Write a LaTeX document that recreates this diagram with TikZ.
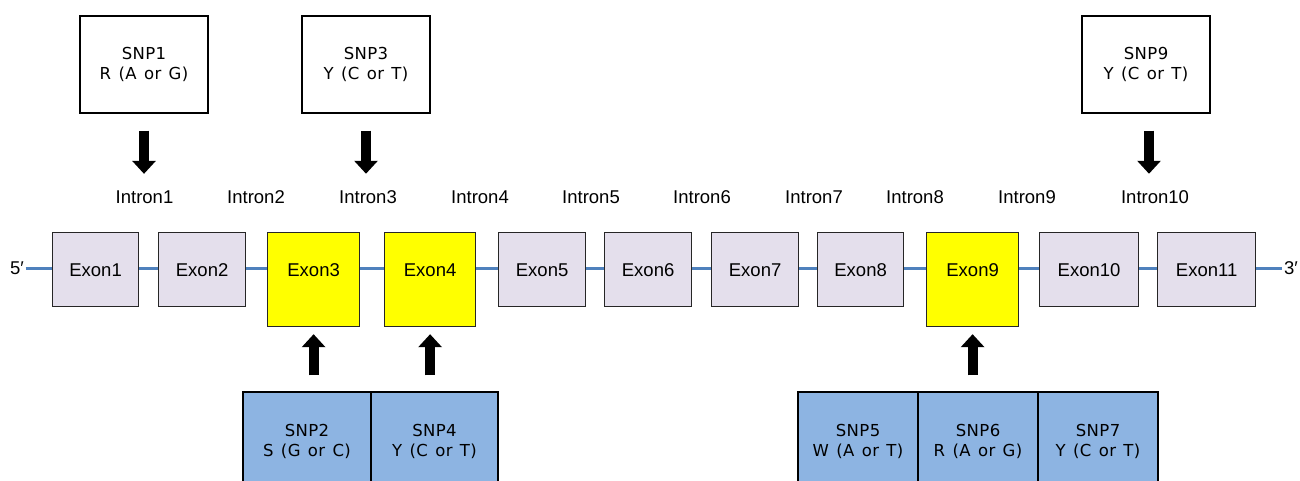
\documentclass[tikz,border=0pt]{standalone}
\usepackage{fontspec}
\setmainfont{Liberation Sans}
\newfontfamily\snpfont[LetterSpace=2.5,WordSpace=1.3]{DejaVu Sans}
\usetikzlibrary{arrows.meta}
\definecolor{exongrey}{HTML}{E4DFEC}
\definecolor{snpblue}{HTML}{8DB4E2}
\definecolor{strandblue}{HTML}{4F81BD}
\definecolor{exonyellow}{HTML}{FFFF00}
\tikzset{
  exon/.style={draw=black!85, line width=1.2pt, fill=exongrey, anchor=north west,
    inner xsep=0pt, inner ysep=0pt, text height=44pt, text depth=30pt,
    font=\fontsize{18.5}{20}\selectfont},
  hot/.style={fill=exonyellow, text depth=50pt},
  intron/.style={inner sep=0pt, font=\fontsize{18.5}{20}\selectfont},
  endlabel/.style={inner sep=1.5pt, font=\fontsize{18.5}{20}\selectfont},
  snpbox/.style={draw=black, line width=1.3pt, minimum height=97pt, align=center,
    inner sep=0pt, font=\snpfont\fontsize{16.5}{20}\selectfont},
  snpbot/.style={snpbox, fill=snpblue, minimum height=98pt},
  strand/.style={draw=strandblue, line width=3pt},
  fat/.style={line width=10pt, -{Triangle[width=23pt,length=13pt]}},
}
\begin{document}
\begin{tikzpicture}[x=1pt,y=-1pt]
\useasboundingbox (0,0) rectangle (1300,481);
\clip (0,0) rectangle (1300,481);

% strand ends and backbone
\node[endlabel] (p5) at (17,268) {5′};
\node[endlabel] (p3) at (1291,268) {3′};
\draw[strand] (p5.east) -- (p3.west);

% exons
\node[exon, minimum width=86pt] (exon1) at (52,232) {Exon1};
\node[exon, minimum width=87pt] (exon2) at (158,232) {Exon2};
\node[exon, hot, minimum width=92pt] (exon3) at (267,232) {Exon3};
\node[exon, hot, minimum width=91pt] (exon4) at (384,232) {Exon4};
\node[exon, minimum width=87pt] (exon5) at (498,232) {Exon5};
\node[exon, minimum width=87pt] (exon6) at (604,232) {Exon6};
\node[exon, minimum width=87pt] (exon7) at (711,232) {Exon7};
\node[exon, minimum width=86pt] (exon8) at (817,232) {Exon8};
\node[exon, hot, minimum width=92pt] (exon9) at (926,232) {Exon9};
\node[exon, minimum width=99pt] (exon10) at (1039,232) {Exon10};
\node[exon, minimum width=98pt] (exon11) at (1157,232) {Exon11};

% introns
\node[intron] (intron1) at (144.5,197) {Intron1};
\node[intron] (intron2) at (256,197) {Intron2};
\node[intron] (intron3) at (368,197) {Intron3};
\node[intron] (intron4) at (480,197) {Intron4};
\node[intron] (intron5) at (591,197) {Intron5};
\node[intron] (intron6) at (702,197) {Intron6};
\node[intron] (intron7) at (814,197) {Intron7};
\node[intron] (intron8) at (915,197) {Intron8};
\node[intron] (intron9) at (1027,197) {Intron9};
\node[intron] (intron10) at (1155,197) {Intron10};

% SNPs in introns
\node[snpbox, minimum width=128pt] (snp1) at (144,64.5) {SNP1\\R (A or G)};
\node[snpbox, minimum width=128pt] (snp3) at (366,64.5) {SNP3\\Y (C or T)};
\node[snpbox, minimum width=128pt] (snp9) at (1146,64.5) {SNP9\\Y (C or T)};

\draw[fat, shorten <=17pt, shorten >=16.5pt] (snp1.south) -- (snp1.south |- intron1.north);
\draw[fat, shorten <=17pt, shorten >=16.5pt] (snp3.south) -- (snp3.south |- intron3.north);
\draw[fat, shorten <=17pt, shorten >=16.5pt] ([xshift=3pt]snp9.south) -- ([xshift=3pt]snp9.south |- intron10.north);

% SNPs in exons
\node[snpbot, minimum width=128pt] (snp2) at (307,441) {SNP2\\S (G or C)};
\node[snpbot, minimum width=127pt] (snp4) at (434.5,441) {SNP4\\Y (C or T)};
\node[snpbot, minimum width=120pt] (snp5) at (858,441) {SNP5\\W (A or T)};
\node[snpbot, minimum width=120pt] (snp6) at (978,441) {SNP6\\R (A or G)};
\node[snpbot, minimum width=120pt] (snp7) at (1098,441) {SNP7\\Y (C or T)};

\draw[fat, shorten <=16pt, shorten >=7pt] (exon3.south |- snp2.north) -- (exon3.south);
\draw[fat, shorten <=16pt, shorten >=7pt] (exon4.south |- snp4.north) -- (exon4.south);
\draw[fat, shorten <=16pt, shorten >=7pt] (exon9.south |- snp6.north) -- (exon9.south);
\end{tikzpicture}
\end{document}
